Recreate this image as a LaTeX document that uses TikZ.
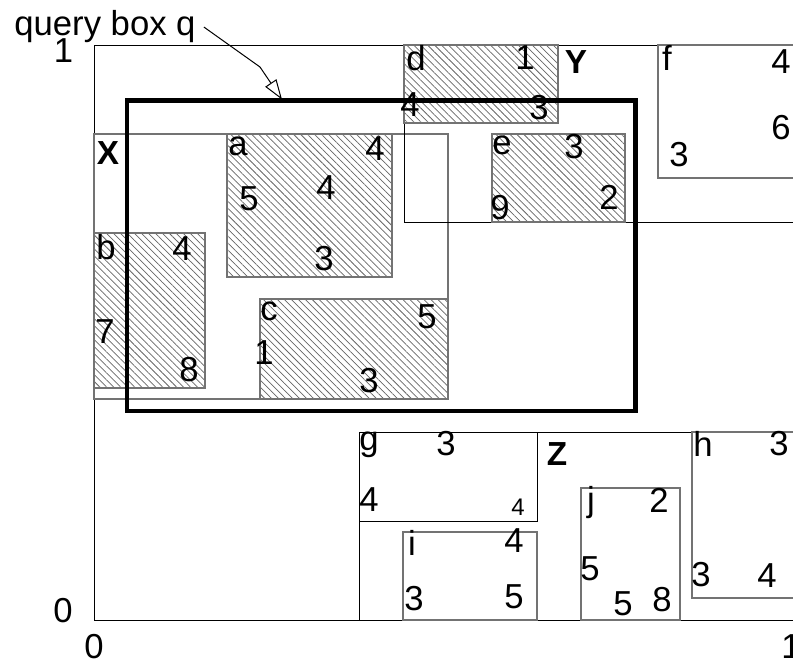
\documentclass[tikz,border=0pt]{standalone}
\usepackage{fontspec}
\setmainfont{Liberation Sans}
\usetikzlibrary{arrows.meta,patterns.meta}

\begin{document}
\begin{tikzpicture}[x=0.75pt,y=-0.75pt,
  lbl/.style={inner sep=0pt,font=\fontsize{26}{26}\selectfont},
  big/.style={inner sep=0pt,font=\fontsize{25}{25}\selectfont\bfseries},
  hatched/.style={draw=black!55,line width=1pt,pattern={Lines[angle=-45,distance=3.7pt,line width=0.55pt]},pattern color=black!60},
  greybox/.style={draw=black!55,line width=1pt},
  blackbox/.style={draw,line width=0.75pt}]
\clip (0,0) rectangle (793,664);
\draw[blackbox] (94,45) rectangle (900,620);
\draw[greybox] (94,134) rectangle (448,399);
\draw[blackbox] (404,45) rectangle (900,222);
\draw[blackbox] (359,432) rectangle (900,620);
\path[hatched] (227,134) rectangle (392,277);
\path[hatched] (94,233) rectangle (205,388);
\path[hatched] (260,299) rectangle (448,399);
\path[hatched] (404,45) rectangle (558,123);
\path[hatched] (492,134) rectangle (625,222);
\draw[greybox] (658,45) rectangle (900,178);
\draw[blackbox] (359,432) rectangle (537,521);
\draw[greybox] (403,532) rectangle (537,620);
\draw[greybox] (581,488) rectangle (680,620);
\draw[greybox] (692,432) rectangle (900,598);
\draw[line width=3.2pt] (127,100.5) rectangle (635.5,410.8);

\node[lbl,inner xsep=6pt] (qlabel) at (105,27) {query box q};
\coordinate (qbend) at (260,67);
\coordinate (qtip) at (282,99.5);
\draw[line width=0.75pt,-{Triangle[open,length=15pt,width=10pt]}] (qlabel.east) -- (qbend) -- (qtip);

\node[lbl] (y1) at (63.5,51) {1};
\node[lbl] (y0) at (63,611) {0};
\node[lbl] (x0) at (94,647) {0};
\node[lbl] (x1) at (791,647) {1};

\node[big] (X) at (108,153) {X};
\node[big] (Y) at (576,62) {Y};
\node[big] (Z) at (557,454) {Z};

\node[lbl] (a) at (238,146) {a};
\node[lbl] (a1) at (375,149) {4};
\node[lbl] (a2) at (249,199) {5};
\node[lbl] (a3) at (326,188) {4};
\node[lbl] (a4) at (324,259) {3};

\node[lbl] (b) at (106,247) {b};
\node[lbl] (b1) at (182,249) {4};
\node[lbl] (b2) at (105,332) {7};
\node[lbl] (b3) at (189,370) {8};

\node[lbl] (c) at (269,311) {c};
\node[lbl] (c1) at (427,317) {5};
\node[lbl] (c2) at (264,353) {1};
\node[lbl] (c3) at (369,381) {3};

\node[lbl] (d) at (416,58) {d};
\node[lbl] (d1) at (525,58) {1};
\node[lbl] (d2) at (410,105) {4};
\node[lbl] (d3) at (539,108) {3};

\node[lbl] (e) at (502,145) {e};
\node[lbl] (e1) at (574,147) {3};
\node[lbl] (e2) at (609,197) {2};
\node[lbl] (e3) at (500,208) {9};

\node[lbl] (f) at (667,58) {f};
\node[lbl] (f1) at (781,62) {4};
\node[lbl] (f2) at (781,128) {6};
\node[lbl] (f3) at (679,155) {3};

\node[lbl] (g) at (369,445) {g};
\node[lbl] (g1) at (446,444) {3};
\node[lbl] (g2) at (369,500) {4};
\node[lbl,font=\fontsize{18}{18}\selectfont] (g3) at (518,507) {4};

\node[lbl] (h) at (703,444) {h};
\node[lbl] (h1) at (779,444) {3};
\node[lbl] (h2) at (701,575) {3};
\node[lbl] (h3) at (767,576) {4};

\node[lbl] (i) at (412,543) {i};
\node[lbl] (i1) at (514,541) {4};
\node[lbl] (i2) at (414,599) {3};
\node[lbl] (i3) at (514,597) {5};

\node[lbl] (j) at (591,503) {j};
\node[lbl] (j1) at (659,500) {2};
\node[lbl] (j2) at (590,569) {5};
\node[lbl] (j3) at (623,604) {5};
\node[lbl] (j4) at (662,600) {8};
\end{tikzpicture}
\end{document}
